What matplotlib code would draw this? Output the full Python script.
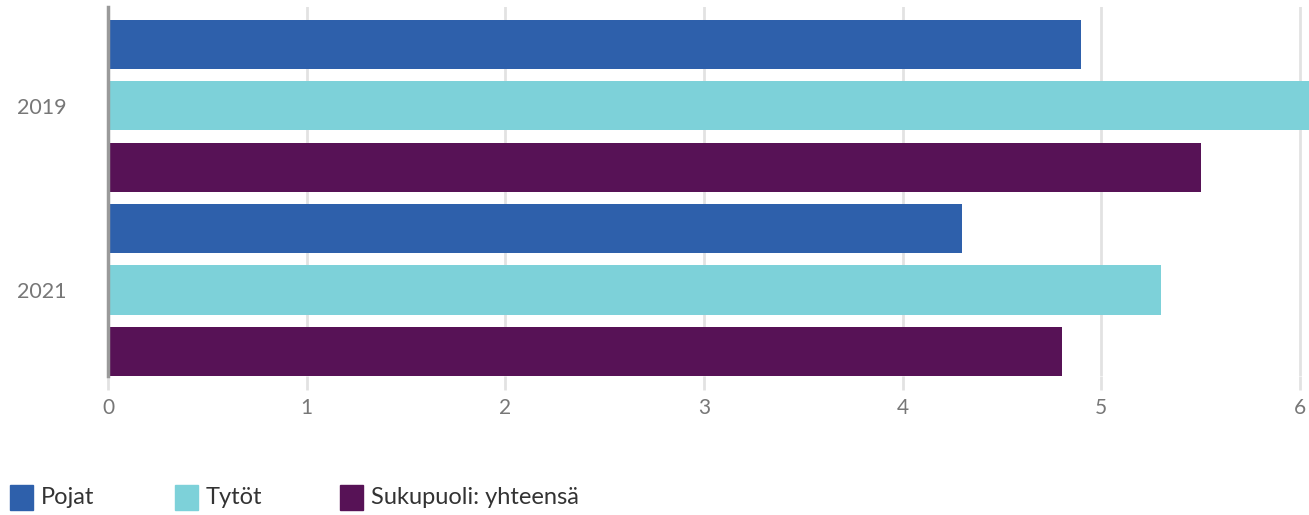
import matplotlib.pyplot as plt
import matplotlib.patches as mpatches
import numpy as np

# data
years = ["2019", "2021"]
series = ["Pojat", "Tytöt", "Sukupuoli: yhteensä"]
values = {
    "Pojat": [4.9, 4.3],
    "Tytöt": [6.1, 5.3],
    "Sukupuoli: yhteensä": [5.5, 4.8],
}
colors = ["#2e60ab", "#7dd1d9", "#571256"]

plt.rcParams['font.family'] = ['Lato', 'DejaVu Sans']

W, H = 1309, 515
fig = plt.figure(figsize=(W / 100, H / 100), dpi=100)
ax = fig.add_axes([108 / W, 1 - 376 / H, (W - 108) / W, (376 - 7) / H])

n = len(series)
for gi, year in enumerate(years):
    for si, name in enumerate(series):
        pos = gi * n + si
        ax.barh(pos, values[name][gi], height=0.8, color=colors[si], zorder=3)

ax.set_xlim(0, 6 + 9 / 198.7)
ax.set_ylim(5.4, -0.61)
ax.set_xticks(range(0, 7))
ax.set_yticks([gi * n + 1 for gi in range(len(years))])
ax.set_yticklabels(years)

ax.grid(True, axis='x', color='#e2e2e2', linewidth=2, zorder=0)
for s in ['top', 'right', 'bottom']:
    ax.spines[s].set_visible(False)
ax.spines['left'].set_color('#9a9a9a')
ax.spines['left'].set_linewidth(2.5)
ax.spines['left'].set_zorder(4)

ax.tick_params(axis='x', length=10, width=2, color='#e2e2e2', labelsize=15,
               labelcolor='#777777', pad=6)
ax.tick_params(axis='y', length=0, labelsize=15.5, labelcolor='#777777', pad=30)

# legend
legend_x = [10, 175, 340]
for x0, name, c in zip(legend_x, series, colors):
    fig.patches.append(mpatches.Rectangle((x0 / W, 1 - 510 / H), 23 / W, 25 / H,
                                          transform=fig.transFigure, color=c))
    fig.text((x0 + 31) / W, 1 - 498 / H, name, fontsize=17, color='#333333',
             va='center', ha='left')

fig.savefig("out.png", dpi=100)
